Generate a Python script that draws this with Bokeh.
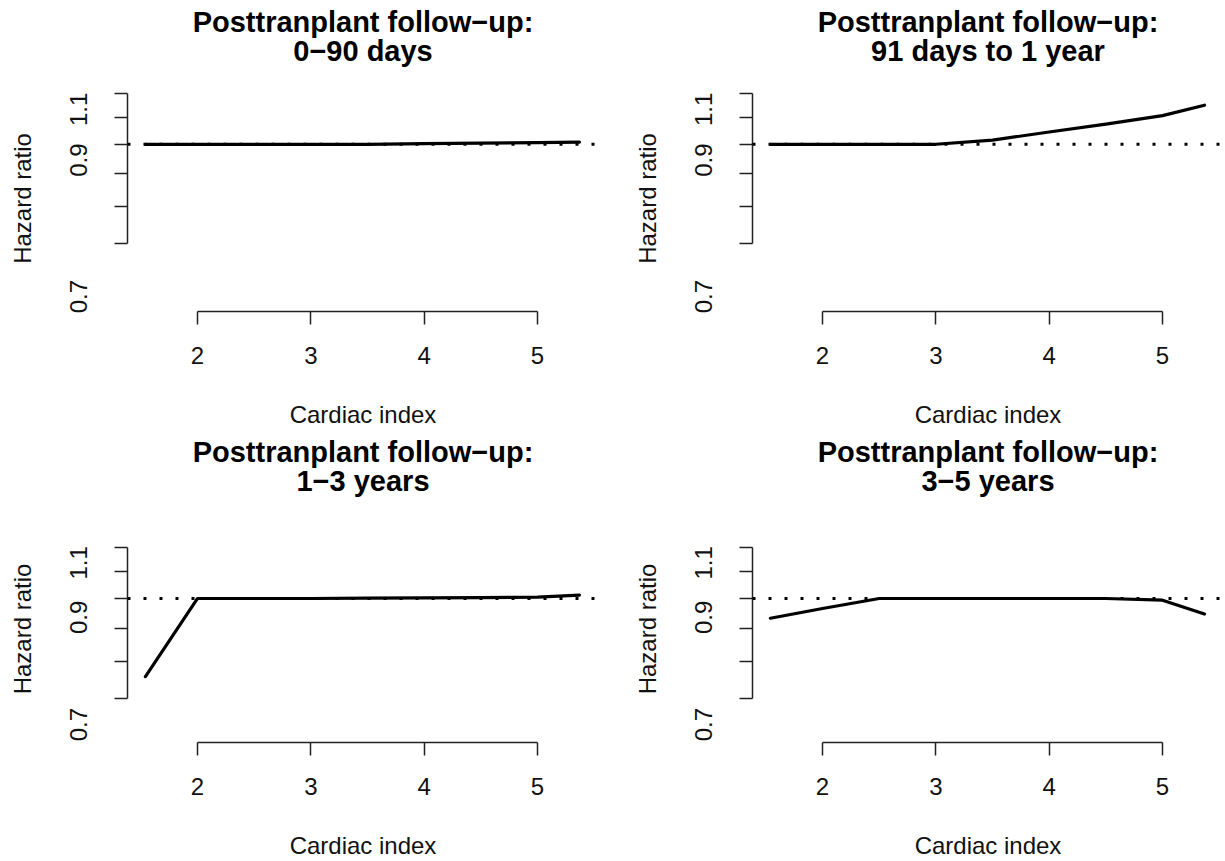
from bokeh.plotting import figure
from bokeh.models import Range1d, LogAxis, LinearAxis, FixedTicker, Span, Title
from bokeh.layouts import column, row
from bokeh.embed import file_html
from bokeh.resources import INLINE

# ---- data ----
cardiac_index = [1.54, 2.0, 2.5, 3.0, 3.5, 4.0, 4.5, 5.0, 5.37]
hr_0_90_days = [1.0, 1.0, 1.0, 1.0, 1.0, 1.002, 1.004, 1.006, 1.008]
hr_91d_1y = [1.0, 1.0, 1.0, 1.0, 1.015, 1.045, 1.075, 1.108, 1.15]
hr_1_3_years = [0.757, 1.0, 1.0, 1.0, 1.001, 1.002, 1.003, 1.005, 1.012]
hr_3_5_years = [0.932, 0.965, 1.0, 1.0, 1.0, 1.0, 1.0, 0.994, 0.946]

title_main = "Posttranplant follow\u2212up:"
subtitles = ["0\u221290 days", "91 days to 1 year", "1\u22123 years", "3\u22125 years"]
x_ticks = [2, 3, 4, 5]
y_ticks = [0.7, 0.8, 0.9, 1.0, 1.1, 1.2]
y_tick_labels = ["0.7", "0.9", "1.1"]
# positions where the (offset) y tick labels are printed in the reference
y_label_pos_top = [0.58, 0.945, 1.133]
y_label_pos_bottom = [0.638, 0.935, 1.135]
ref_line = 1.0

FONT = "Liberation Sans"


def make_panel(hr, sub, y_rng, lab_pos, width, height, br):
    p = figure(width=width, height=height,
               x_range=Range1d(1.382, 5.538), y_range=Range1d(*y_rng),
               y_axis_type="log", x_axis_location=None, y_axis_location=None,
               output_backend="svg", toolbar_location=None,
               min_border_left=127, min_border_right=br,
               min_border_top=85, min_border_bottom=height - 313)
    p.outline_line_color = None
    p.background_fill_color = "white"
    p.border_fill_color = "white"
    p.xgrid.grid_line_color = None
    p.ygrid.grid_line_color = None

    # x axis
    xa = LinearAxis(ticker=FixedTicker(ticks=x_ticks), bounds=(2, 5))
    xa.major_tick_out = 13
    xa.major_tick_in = 0
    xa.minor_tick_out = 0
    xa.axis_line_width = 1.5
    xa.major_tick_line_width = 1.5
    xa.axis_line_color = "#222222"
    xa.major_tick_line_color = "#222222"
    xa.major_label_standoff = 22
    xa.major_label_text_font = FONT
    xa.major_label_text_font_size = "24px"
    xa.major_label_text_line_height = 1.0
    xa.major_label_text_color = "#111111"
    xa.axis_label = "Cardiac index"
    xa.axis_label_text_font = FONT
    xa.axis_label_text_font_size = "24px"
    xa.axis_label_text_line_height = 1.0
    xa.axis_label_text_font_style = "normal"
    xa.axis_label_text_color = "#111111"
    xa.axis_label_standoff = 34
    p.add_layout(xa, "below")

    # y axis: line and ticks (log scale), no labels
    ya = LogAxis(ticker=FixedTicker(ticks=y_ticks), bounds=(0.7, 1.2))
    ya.major_tick_out = 13
    ya.major_tick_in = 0
    ya.minor_tick_out = 0
    ya.axis_line_width = 1.5
    ya.major_tick_line_width = 1.5
    ya.axis_line_color = "#222222"
    ya.major_tick_line_color = "#222222"
    ya.major_label_overrides = {t: "" for t in y_ticks}
    ya.major_label_standoff = 0
    p.add_layout(ya, "left")

    # y labels as printed in the reference
    yl = LogAxis(ticker=FixedTicker(ticks=lab_pos))
    yl.axis_line_color = None
    yl.major_tick_line_color = None
    yl.major_tick_out = 0
    yl.major_tick_in = 0
    yl.minor_tick_out = 0
    yl.major_label_overrides = dict(zip(lab_pos, y_tick_labels))
    yl.major_label_orientation = "vertical"
    yl.major_label_standoff = 27
    yl.major_label_text_font = FONT
    yl.major_label_text_font_size = "24px"
    yl.major_label_text_color = "#111111"
    yl.axis_label = "Hazard ratio"
    yl.axis_label_text_font = FONT
    yl.axis_label_text_font_size = "24px"
    yl.axis_label_text_font_style = "normal"
    yl.axis_label_text_color = "#111111"
    yl.axis_label_standoff = 32
    p.add_layout(yl, "left")

    # reference line and curve
    p.add_layout(Span(location=ref_line, dimension="width", line_color="black",
                      line_width=3, line_dash="3 13"))
    p.line(cardiac_index, hr, line_color="black", line_width=3.2,
           line_cap="round", line_join="round")

    p.add_layout(Title(text=sub, align="center", text_font=FONT,
                       text_font_size="29px", text_font_style="bold",
                       text_color="black", standoff=37), "above")
    p.add_layout(Title(text=title_main, align="center", text_font=FONT,
                       text_font_size="29px", text_font_style="bold",
                       text_color="black", standoff=-47), "above")
    return p


top_rng = (0.5498, 1.234)
bot_rng = (0.5986, 1.344)
p1 = make_panel(hr_0_90_days, subtitles[0], top_rng, y_label_pos_top, 625, 430, 27)
p2 = make_panel(hr_91d_1y, subtitles[1], top_rng, y_label_pos_top, 600, 430, 2)
p3 = make_panel(hr_1_3_years, subtitles[2], bot_rng, y_label_pos_bottom, 625, 431, 27)
p4 = make_panel(hr_3_5_years, subtitles[3], bot_rng, y_label_pos_bottom, 600, 431, 2)

layout = column(row(p1, p2), row(p3, p4))
open("out.html", "w").write(file_html(layout, INLINE))
